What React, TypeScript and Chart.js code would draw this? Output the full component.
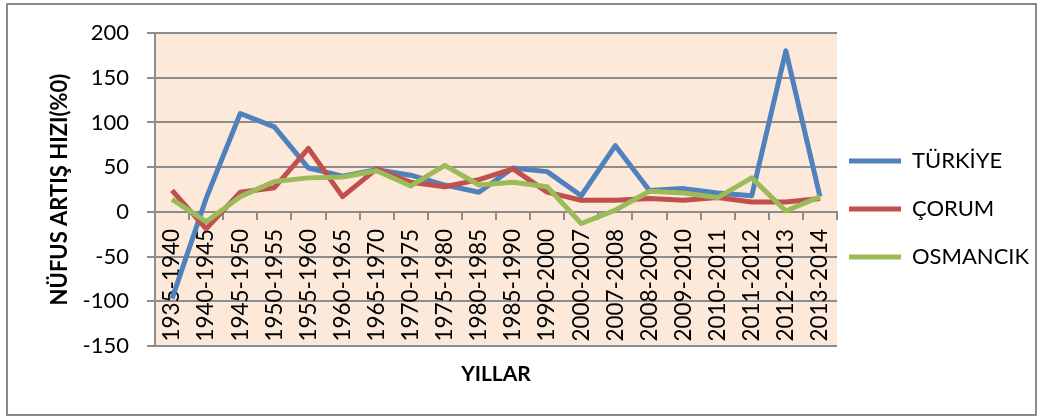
import React, { useEffect, useRef } from "react";
import { Chart, registerables } from "chart.js";

Chart.register(...registerables);

const categories = [
  "1935-1940", "1940-1945", "1945-1950", "1950-1955", "1955-1960",
  "1960-1965", "1965-1970", "1970-1975", "1975-1980", "1980-1985",
  "1985-1990", "1990-2000", "2000-2007", "2007-2008", "2008-2009",
  "2009-2010", "2010-2011", "2011-2012", "2012-2013", "2013-2014",
];

const turkiye = [-97, 15, 110, 95, 49, 40, 47, 41, 30, 22, 49, 45, 18, 74, 24, 26, 21, 18, 180, 17];
const corum = [24, -19, 22, 27, 71, 17, 48, 33, 28, 36, 48, 22, 13, 13, 15, 13, 16, 11, 11, 15];
const osmancik = [14, -11, 17, 34, 38, 39, 46, 29, 52, 30, 33, 28, -13, 2, 23, 21, 16, 38, 1, 17];

const seriesNames = ["TÜRKİYE", "ÇORUM", "OSMANCIK"];
const seriesColors = ["#4F81BD", "#C0504D", "#9BBB59"];

const yMin = -150;
const yMax = 200;
const yStep = 50;

const yTitle = "NÜFUS ARTIŞ HIZI(%0)";
const xTitle = "YILLAR";

const FONT = "Lato, 'Open Sans', sans-serif";
const GRID = "#8c8c8c";

const plotBackground = {
  id: "plotBackground",
  beforeDraw(chart: any) {
    const { ctx, chartArea } = chart;
    if (!chartArea) return;
    ctx.save();
    ctx.fillStyle = "#FDE9D9";
    ctx.fillRect(chartArea.left, chartArea.top, chartArea.right - chartArea.left, chartArea.bottom - chartArea.top);
    ctx.restore();
  },
};

const legendShift = {
  id: "legendShift",
  afterLayout(chart: any) {
    if (chart.legend) {
      chart.legend.left -= 14;
    }
  },
};

export default function App() {
  const canvasRef = useRef<HTMLCanvasElement | null>(null);

  useEffect(() => {
    let chart: Chart | null = null;
    let cancelled = false;
    const make = () => {
      if (cancelled || !canvasRef.current) return;
      const values = [turkiye, corum, osmancik];
      chart = new Chart(canvasRef.current, {
        type: "line",
        data: {
          labels: categories,
          datasets: values.map((v, i) => ({
            label: seriesNames[i],
            data: v,
            order: values.length - i,
            borderColor: seriesColors[i],
            backgroundColor: seriesColors[i],
            borderWidth: 5,
            pointRadius: 0,
            pointHoverRadius: 0,
            tension: 0,
            fill: false,
            borderJoinStyle: "round" as const,
          })),
        },
        options: {
          responsive: false,
          animation: false,
          devicePixelRatio: 1,
          events: [],
          layout: { padding: { top: 33, bottom: 32, left: 0, right: 0 } },
          scales: {
            x: {
              type: "category",
              position: { y: 0 } as any,
              offset: true,
              ticks: {
                minRotation: 90,
                maxRotation: 90,
                autoSkip: false,
                padding: 10,
                color: "#000",
                font: { family: FONT, size: 22.5 },
              },
              grid: {
                drawOnChartArea: false,
                drawTicks: true,
                tickLength: 7,
                color: GRID,
                lineWidth: 2,
                offset: true,
              },
              border: { display: true, color: GRID, width: 2 },
            },
            y: {
              min: yMin,
              max: yMax,
              ticks: {
                stepSize: yStep,
                padding: 18,
                color: "#000",
                font: { family: FONT, size: 22 },
              },
              grid: { color: GRID, lineWidth: 2, tickLength: 8, drawTicks: true },
              border: { display: true, color: GRID, width: 2 },
              title: {
                display: true,
                text: yTitle,
                color: "#000",
                font: { family: FONT, size: 22, weight: "bold" },
                padding: { top: 47, bottom: 0 },
              },
              afterFit: (s: any) => {
                s.width = 155;
              },
            },
          },
          plugins: {
            legend: {
              position: "right",
              maxWidth: 206,
              labels: {
                boxWidth: 52,
                boxHeight: 5,
                padding: 26,
                color: "#000",
                font: { family: FONT, size: 22 },
                sort: (a: any, b: any) => a.datasetIndex - b.datasetIndex,
                generateLabels: (c: any) =>
                  (Chart.defaults.plugins.legend.labels as any)
                    .generateLabels(c)
                    .map((it: any) => ({ ...it, fillStyle: it.strokeStyle, lineWidth: 0 })),
              },
            },
            title: {
              display: true,
              position: "bottom",
              fullSize: false,
              text: xTitle,
              color: "#000",
              font: { family: FONT, size: 21, weight: "bold", lineHeight: 1 },
              padding: { top: 18, bottom: 0 },
            },
            tooltip: { enabled: false },
          },
        },
        plugins: [plotBackground, legendShift],
      });
    };
    const fontsApi = (document as any).fonts;
    if (fontsApi && fontsApi.load) {
      Promise.all([
        fontsApi.load("22px Lato"),
        fontsApi.load("bold 22px Lato"),
      ]).then(make, make);
    } else {
      make();
    }
    return () => {
      cancelled = true;
      if (chart) chart.destroy();
    };
  }, []);

  return (
    <div style={{ position: "absolute", left: 0, top: 0, width: 1043, height: 417, background: "#fff" }}>
      <div
        style={{
          position: "absolute",
          left: 6,
          top: 3,
          width: 1031,
          height: 413,
          boxSizing: "border-box",
          border: "2px solid #8a8a8a",
        }}
      />
      <canvas
        ref={canvasRef}
        width={1043}
        height={417}
        style={{ position: "absolute", left: 0, top: 0, width: 1043, height: 417 }}
      />
    </div>
  );
}
